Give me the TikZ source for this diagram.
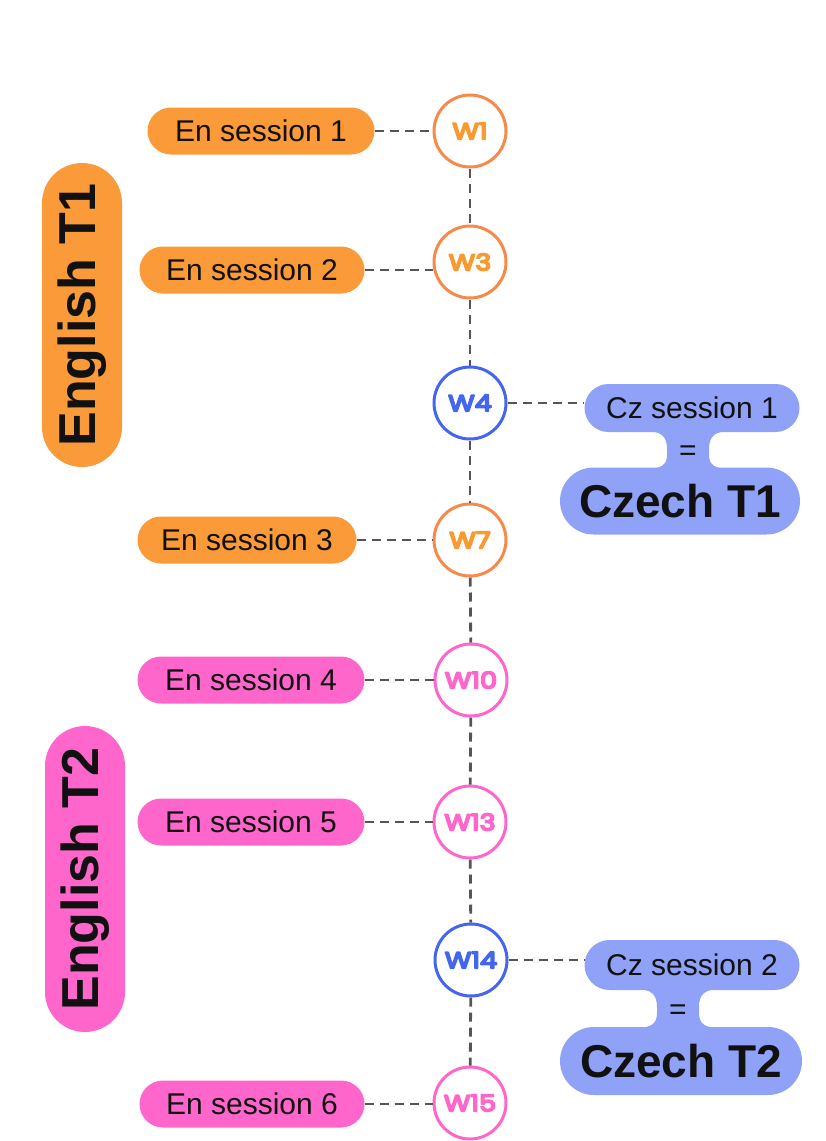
\documentclass[tikz,border=0pt]{standalone}
\usepackage{fontspec}
\usepackage{graphicx}
\setmainfont{Liberation Sans}
\newfontfamily\wfont{Poppins}
\newcommand{\heavytxt}[1]{\scalebox{1.18}[1]{\special{pdf:code q 2 Tr 1.6 w 1 j}#1\special{pdf:code Q}}}
\usetikzlibrary{shapes.misc}
\definecolor{orF}{HTML}{FA9A38}
\definecolor{orS}{HTML}{F78A48}
\definecolor{orT}{HTML}{F99A30}
\definecolor{pkF}{HTML}{FF66CC}
\definecolor{blS}{HTML}{4466EE}
\definecolor{blF}{HTML}{8FA2F7}
\definecolor{lnC}{HTML}{555555}
\definecolor{txC}{HTML}{111111}
\tikzset{
  wcirc/.style={circle, minimum size=72pt, inner sep=0pt, line width=3pt, fill=white, font=\wfont\fontsize{23}{23}\selectfont},
  pill/.style={rounded rectangle, minimum height=47pt, inner sep=0pt, text=txC, font=\fontsize{30}{30}\selectfont},
  bigpill/.style={rounded rectangle, inner sep=0pt, text=txC, font=\bfseries\fontsize{46}{46}\selectfont},
  dline/.style={draw=lnC, line width=2.8pt, dash pattern=on 9pt off 6pt}
}
\begin{document}
\begin{tikzpicture}[x=1pt,y=-1pt]
\useasboundingbox (0,0) rectangle (826,1141);
% circles
\node[wcirc, draw=orS, text=orT] (w1) at (470,131) {\heavytxt{W1}};
\node[wcirc, draw=orS, text=orT] (w3) at (470,262) {\heavytxt{W3}};
\node[wcirc, draw=blS, text=blS] (w4) at (470,403) {\heavytxt{W4}};
\node[wcirc, draw=orS, text=orT] (w7) at (470,540) {\heavytxt{W7}};
\node[wcirc, draw=pkF, text=pkF] (w10) at (471,680) {\heavytxt{W10}};
\node[wcirc, draw=pkF, text=pkF] (w13) at (470,822) {\heavytxt{W13}};
\node[wcirc, draw=blS, text=blS] (w14) at (471,960) {\heavytxt{W14}};
\node[wcirc, draw=pkF, text=pkF] (w15) at (470,1103) {\heavytxt{W15}};
% english sessions
\node[pill, fill=orF, minimum width=227pt] (e1) at (261,131) {En session 1};
\node[pill, fill=orF, minimum width=225pt] (e2) at (252,270) {En session 2};
\node[pill, fill=orF, minimum width=219pt] (e3) at (247,540) {En session 3};
\node[pill, fill=pkF, minimum width=227pt] (e4) at (251,680) {En session 4};
\node[pill, fill=pkF, minimum width=227pt] (e5) at (251,822) {En session 5};
\node[pill, fill=pkF, minimum width=225pt] (e6) at (252,1104) {En session 6};
% term labels
\node[bigpill, fill=orF, rotate=90, minimum width=304pt, minimum height=80pt, font=\bfseries\fontsize{52}{52}\selectfont] (t1) at (82,315) {English T1};
\node[bigpill, fill=pkF, rotate=90, minimum width=306pt, minimum height=80pt, font=\bfseries\fontsize{52}{52}\selectfont] (t2) at (85,879) {English T2};
% czech block 1
\fill[blF] (645,431) .. controls (661,431) and (667,436) .. (667,449) -- (667,455) .. controls (667,465) and (661,469) .. (645,469) -- (731,469) .. controls (715,469) and (709,465) .. (709,455) -- (709,449) .. controls (709,436) and (715,431) .. (731,431) -- cycle;
\node[pill, fill=blF, minimum width=215pt, minimum height=48pt] (c1) at (692,408) {Cz session 1};
\node[bigpill, fill=blF, minimum width=240pt, minimum height=67pt] (ct1) at (680,501) {Czech T1};
\node[text=txC, font=\fontsize{30}{30}\selectfont, inner sep=0pt] (q1) at (688,453) {=};
% czech block 2
\fill[blF] (635,989) .. controls (651,989) and (657,994) .. (657,1007) -- (657,1013) .. controls (657,1024) and (651,1028) .. (635,1028) -- (721,1028) .. controls (705,1028) and (699,1024) .. (699,1013) -- (699,1007) .. controls (699,994) and (705,989) .. (721,989) -- cycle;
\node[pill, fill=blF, minimum width=215pt, minimum height=50pt] (c2) at (692,965) {Cz session 2};
\node[bigpill, fill=blF, minimum width=242pt, minimum height=68pt] (ct2) at (681,1061) {Czech T2};
\node[text=txC, font=\fontsize{30}{30}\selectfont, inner sep=0pt] (q2) at (678,1012) {=};
% connectors
\draw[dline] (w1) -- (w3);
\draw[dline] (w3) -- (w4);
\draw[dline] (w4) -- (w7);
\draw[dline] (w7) -- (w10);
\draw[dline] (w10) -- (w13);
\draw[dline] (w13) -- (w14);
\draw[dline] (w14) -- (w15);
\draw[dline] (e1.east) -- (w1.west);
\draw[dline] (e2.east) -- (w3.west |- e2.east);
\draw[dline] (e3.east) -- (w7.west);
\draw[dline] (e4.east) -- (w10.west);
\draw[dline] (e5.east) -- (w13.west);
\draw[dline] (e6.east) -- (w15.west |- e6.east);
\draw[dline] (w4.east) -- (c1.west |- w4.east);
\draw[dline] (w14.east) -- (c2.west |- w14.east);
\end{tikzpicture}
\end{document}
